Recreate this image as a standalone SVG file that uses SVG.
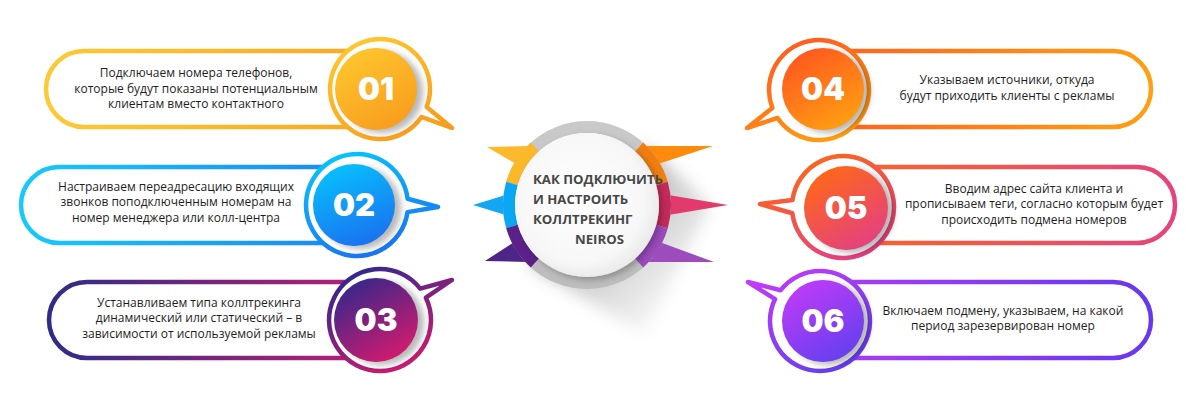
<svg xmlns="http://www.w3.org/2000/svg" width="1200" height="408" viewBox="0 0 1200 408">
<defs>
<style>
.pill{fill:#fff;stroke-width:4.5}
.ring{fill:#fff;stroke-width:4.5;stroke-linejoin:round}
.body{font-family:"Open Sans","Liberation Sans",sans-serif;font-size:12px;fill:#1e1e1e;text-anchor:middle}
.num{font-family:Inter,"Open Sans","Liberation Sans",sans-serif;font-weight:900;font-size:31px;fill:#fff;text-anchor:middle}
.title{font-family:"Open Sans","Liberation Sans",sans-serif;font-weight:700;font-size:13.2px;fill:#474747}
.seg{fill:none;stroke-width:12}
.sh{fill:#000;opacity:0.28;filter:url(#blur3)}
</style>
<filter id="blur3" x="-30%" y="-30%" width="160%" height="160%"><feGaussianBlur stdDeviation="3"/></filter>
<filter id="blur8" x="-50%" y="-50%" width="200%" height="200%"><feGaussianBlur stdDeviation="8"/></filter>
<filter id="dshadow" x="-30%" y="-30%" width="160%" height="160%"><feDropShadow dx="3" dy="3" stdDeviation="3" flood-color="#000" flood-opacity="0.25"/></filter>
<linearGradient id="p1" gradientUnits="userSpaceOnUse" x1="46" y1="0" x2="430" y2="0"><stop offset="0" stop-color="#fcca36"/><stop offset="1" stop-color="#f8a21e"/></linearGradient>
<linearGradient id="p2" gradientUnits="userSpaceOnUse" x1="21" y1="0" x2="410" y2="0"><stop offset="0" stop-color="#17cafb"/><stop offset="1" stop-color="#1a7cef"/></linearGradient>
<linearGradient id="p3" gradientUnits="userSpaceOnUse" x1="49" y1="0" x2="430" y2="0"><stop offset="0" stop-color="#2e2c86"/><stop offset="1" stop-color="#d81b70"/></linearGradient>
<linearGradient id="p4" gradientUnits="userSpaceOnUse" x1="770" y1="0" x2="1153" y2="0"><stop offset="0" stop-color="#ff581f"/><stop offset="1" stop-color="#ff9f12"/></linearGradient>
<linearGradient id="p5" gradientUnits="userSpaceOnUse" x1="790" y1="0" x2="1177" y2="0"><stop offset="0" stop-color="#ff6a18"/><stop offset="1" stop-color="#e5437f"/></linearGradient>
<linearGradient id="p6" gradientUnits="userSpaceOnUse" x1="770" y1="0" x2="1153" y2="0"><stop offset="0" stop-color="#b83cf8"/><stop offset="1" stop-color="#6638ee"/></linearGradient>
<linearGradient id="c1" x1="0.2" y1="0" x2="0.8" y2="1"><stop offset="0" stop-color="#fec72f"/><stop offset="1" stop-color="#f89b1c"/></linearGradient>
<linearGradient id="c2" x1="0.3" y1="0" x2="0.7" y2="1"><stop offset="0" stop-color="#08c0fd"/><stop offset="1" stop-color="#1a70f0"/></linearGradient>
<linearGradient id="c3" x1="0.2" y1="0" x2="0.8" y2="1"><stop offset="0" stop-color="#30288c"/><stop offset="1" stop-color="#dc1a6d"/></linearGradient>
<linearGradient id="c4" x1="0.2" y1="0" x2="0.8" y2="1"><stop offset="0" stop-color="#ff5520"/><stop offset="1" stop-color="#ffa211"/></linearGradient>
<linearGradient id="c5" x1="0.2" y1="0" x2="0.8" y2="1"><stop offset="0" stop-color="#ff6a12"/><stop offset="1" stop-color="#e33e88"/></linearGradient>
<linearGradient id="c6" x1="0.2" y1="0" x2="0.8" y2="1"><stop offset="0" stop-color="#c23bf8"/><stop offset="1" stop-color="#6040ee"/></linearGradient>
<radialGradient id="disc" cx="0.45" cy="0.45" r="0.6"><stop offset="0" stop-color="#ffffff"/><stop offset="0.75" stop-color="#f7f7f7"/><stop offset="1" stop-color="#e6e6e6"/></radialGradient>
<linearGradient id="gray" x1="0" y1="0" x2="0" y2="1"><stop offset="0" stop-color="#c9c9c9"/><stop offset="1" stop-color="#bdbdbd"/></linearGradient>
<linearGradient id="longsh" gradientUnits="userSpaceOnUse" x1="600" y1="220" x2="690" y2="310"><stop offset="0" stop-color="#000" stop-opacity="0.25"/><stop offset="1" stop-color="#000" stop-opacity="0"/></linearGradient>
</defs>
<rect width="1200" height="408" fill="#fff"/>

<polygon points="646,146 710,205 645,335 528,264" fill="url(#longsh)" filter="url(#blur8)"/>

<g id="connectors">
<polygon points="487,147 516,164 530,146" fill="#fdb92c"/>
<polygon points="473,205 505.6,215 505.6,195" fill="#12a6f3"/>
<polygon points="485,261 528,262 513.9,242.2" fill="#4d2488"/>
<polygon points="713,146 644,146 658,164" fill="#ff8a0c"/>
<polygon points="728,205 668.4,195 668.4,215" fill="#e23a6b"/>
<polygon points="714,262 660.1,242.2 646,262" fill="#9d4cbd"/>
</g>

<g id="center">
<circle cx="587" cy="205" r="78" fill="none" stroke="url(#gray)" stroke-width="12"/>
<path class="seg" stroke="#fbb829" d="M512,183.5 A78,78 0 0 1 534.8,147"/>
<path class="seg" stroke="#0aa8f4" d="M512,226.5 A78,78 0 0 1 512,183.5"/>
<path class="seg" stroke="#5b2189" d="M534.8,263 A78,78 0 0 1 512,226.5"/>
<path class="seg" stroke="#f07d10" d="M639.2,147 A78,78 0 0 1 662,183.5"/>
<path class="seg" stroke="#c42a5c" d="M662,183.5 A78,78 0 0 1 662,226.5"/>
<path class="seg" stroke="#9a4bbd" d="M662,226.5 A78,78 0 0 1 639.2,263"/>
<circle cx="587" cy="205" r="72" fill="url(#disc)" filter="url(#dshadow)"/>
<text class="title" x="533" y="184">КАК ПОДКЛЮЧИТЬ</text>
<text class="title" x="533" y="204">И НАСТРОИТЬ</text>
<text class="title" x="533" y="224">КОЛЛТРЕКИНГ</text>
<text class="title" x="575" y="244">NEIROS</text>
</g>

<g id="step01">
<rect class="pill" stroke="url(#p1)" x="46" y="51" width="372" height="76" rx="38"/>
<path class="ring" stroke="url(#c1)" d="M421.45,116.96 A50,50 0 1 1 426.68,106.92 L452,128 Z"/>
<circle class="sh" cx="382" cy="92" r="41"/>
<circle cx="376" cy="89" r="41" fill="url(#c1)"/>
<text class="num" x="376" y="100">01</text>
<text class="body" x="196" y="77">Подключаем номера телефонов,</text>
<text class="body" x="196" y="92.5">которые будут показаны потенциальным</text>
<text class="body" x="196" y="108">клиентам вместо контактного</text>
</g>

<g id="step02">
<rect class="pill" stroke="url(#p2)" x="21" y="167" width="374" height="76" rx="38"/>
<path class="ring" stroke="url(#c2)" d="M407.5,212.1 A51,51 0 1 1 407.62,198.78 L438,207 Z"/>
<circle class="sh" cx="360" cy="208" r="41"/>
<circle cx="354" cy="205" r="41" fill="url(#c2)"/>
<text class="num" x="354" y="216">02</text>
<text class="body" x="176" y="190.5">Настраиваем переадресацию входящих</text>
<text class="body" x="176" y="206">звонков поподключенным номерам на</text>
<text class="body" x="176" y="221.5">номер менеджера или колл-центра</text>
</g>

<g id="step03">
<rect class="pill" stroke="url(#p3)" x="49" y="282" width="369" height="76" rx="38"/>
<path class="ring" stroke="url(#c3)" d="M425.84,297.64 A51,51 0 1 1 420.19,288.6 L452,280 Z"/>
<circle class="sh" cx="382" cy="323" r="42"/>
<circle cx="376" cy="320" r="42" fill="url(#c3)"/>
<text class="num" x="376" y="331">03</text>
<text class="body" x="199" y="306.5">Устанавливаем типа коллтрекинга</text>
<text class="body" x="199" y="322">динамический или статический – в</text>
<text class="body" x="199" y="337.5">зависимости от используемой рекламы</text>
</g>

<g id="step04">
<rect class="pill" stroke="url(#p4)" x="781" y="51" width="370" height="76" rx="38"/>
<path class="ring" stroke="url(#c4)" d="M772.32,107.92 A50,50 0 1 1 777.55,117.96 L747,128 Z"/>
<circle class="sh" cx="829" cy="92" r="41"/>
<circle cx="823" cy="89" r="41" fill="url(#c4)"/>
<text class="num" x="823" y="100">04</text>
<text class="body" x="1007" y="84">Указываем источники, откуда</text>
<text class="body" x="1007" y="99.5">будут приходить клиенты с рекламы</text>
</g>

<g id="step05">
<rect class="pill" stroke="url(#p5)" x="805" y="167" width="370" height="76" rx="38"/>
<path class="ring" stroke="url(#c5)" d="M792.5,199.9 A51,51 0 1 1 792.38,213.22 L760,204 Z"/>
<circle class="sh" cx="852" cy="211" r="42"/>
<circle cx="846" cy="208" r="42" fill="url(#c5)"/>
<text class="num" x="846" y="219">05</text>
<text class="body" x="1034" y="192.5">Вводим адрес сайта клиента и</text>
<text class="body" x="1034" y="208">прописываем теги, согласно которым будет</text>
<text class="body" x="1034" y="223.5">происходить подмена номеров</text>
</g>

<g id="step06">
<rect class="pill" stroke="url(#p6)" x="782" y="282" width="369" height="76" rx="38"/>
<path class="ring" stroke="url(#c6)" d="M780.6,290.22 A50,50 0 1 1 775.06,299.08 L748,282 Z"/>
<circle class="sh" cx="829" cy="324" r="41"/>
<circle cx="823" cy="321" r="41" fill="url(#c6)"/>
<text class="num" x="823" y="332">06</text>
<text class="body" x="1003" y="314.5">Включаем подмену, указываем, на какой</text>
<text class="body" x="1003" y="330">период зарезервирован номер</text>
</g>
</svg>
